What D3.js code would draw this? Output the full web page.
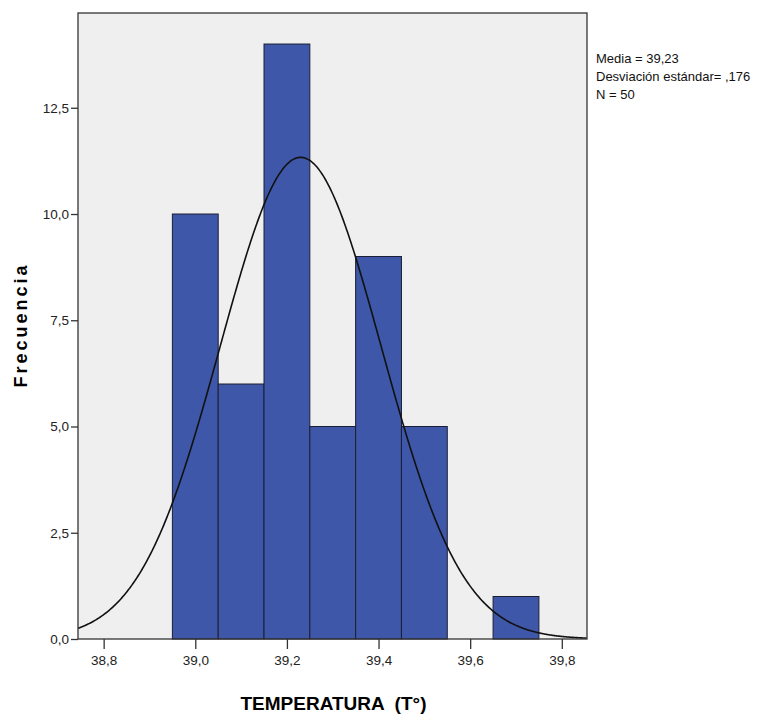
<!DOCTYPE html>
<html>
<head>
<meta charset="utf-8">
<script src="https://cdn.jsdelivr.net/npm/d3@7"></script>
<style>
  html, body { margin: 0; padding: 0; background: #ffffff; }
  svg { display: block; }
</style>
</head>
<body>
<div id="chart"></div>
<script>
// Histogram bins (lower edge) and counts of temperature readings
const binStarts = [38.95, 39.05, 39.15, 39.25, 39.35, 39.45, 39.55, 39.65];
const binWidth = 0.1;
const counts = [10, 6, 14, 5, 9, 5, 0, 1];

// Summary statistics shown beside the plot
const mean = 39.23;
const sd = 0.176;
const n = 50;

const xTicks = [38.8, 39.0, 39.2, 39.4, 39.6, 39.8];
const yTicks = [0, 2.5, 5, 7.5, 10, 12.5];

const W = 765, H = 717;
const plot = { left: 78, right: 587, top: 13, bottom: 639 };

const fmtComma = d => d3.format(".1f")(d).replace(".", ",");

const svg = d3.select("#chart").append("svg")
  .attr("width", W).attr("height", H)
  .style("font-family", "'Liberation Sans', Arial, sans-serif");

const x = d3.scaleLinear().domain([38.744, 39.855]).range([plot.left, plot.right]);
const y = d3.scaleLinear().domain([0, 14.73]).range([plot.bottom, plot.top]);

// Plot background
svg.append("rect")
  .attr("x", plot.left).attr("y", plot.top)
  .attr("width", plot.right - plot.left).attr("height", plot.bottom - plot.top)
  .attr("fill", "#efefef");

// Bars
svg.append("g").selectAll("rect")
  .data(binStarts.map((s, i) => ({ s, c: counts[i] })).filter(d => d.c > 0))
  .join("rect")
  .attr("x", d => x(d.s))
  .attr("y", d => y(d.c))
  .attr("width", d => x(d.s + binWidth) - x(d.s))
  .attr("height", d => y(0) - y(d.c))
  .attr("fill", "#3e57a8")
  .attr("stroke", "#1b1e33")
  .attr("stroke-width", 1);

// Fitted normal curve scaled to counts
const curvePts = d3.range(x.domain()[0], x.domain()[1] + 0.0005, 0.002).map(v => {
  const z = (v - mean) / sd;
  const f = n * binWidth / (sd * Math.sqrt(2 * Math.PI)) * Math.exp(-0.5 * z * z);
  return [v, f];
});
svg.append("path")
  .datum(curvePts)
  .attr("fill", "none")
  .attr("stroke", "#111")
  .attr("stroke-width", 1.6)
  .attr("d", d3.line().x(d => x(d[0])).y(d => y(d[1])).curve(d3.curveBasis));

// Frame
svg.append("rect")
  .attr("x", plot.left).attr("y", plot.top)
  .attr("width", plot.right - plot.left).attr("height", plot.bottom - plot.top)
  .attr("fill", "none").attr("stroke", "#333").attr("stroke-width", 1.3);

// Axes
const yAxis = svg.append("g")
  .attr("transform", `translate(${plot.left},0)`)
  .call(d3.axisLeft(y).tickValues(yTicks).tickFormat(fmtComma).tickSize(7).tickPadding(2));
yAxis.select(".domain").remove();
yAxis.selectAll("line").attr("stroke", "#333").attr("stroke-width", 1.3);
yAxis.selectAll("text").attr("font-size", 13.5).attr("fill", "#222");

const xAxis = svg.append("g")
  .attr("transform", `translate(0,${plot.bottom})`)
  .call(d3.axisBottom(x).tickValues(xTicks).tickFormat(fmtComma).tickSize(10).tickPadding(6));
xAxis.select(".domain").remove();
xAxis.selectAll("line").attr("stroke", "#333").attr("stroke-width", 1.3);
xAxis.selectAll("text").attr("font-size", 13.5).attr("fill", "#222");

// Axis titles
svg.append("text")
  .attr("x", (plot.left + plot.right) / 2 + 1).attr("y", 710)
  .attr("text-anchor", "middle")
  .style("white-space", "pre")
  .attr("font-size", 19).attr("font-weight", "bold").attr("fill", "#000")
  .text("TEMPERATURA  (T°)");

svg.append("text")
  .attr("transform", "translate(27,325) rotate(-90)")
  .attr("text-anchor", "middle")
  .attr("font-size", 18).attr("font-weight", "bold").attr("fill", "#000")
  .attr("letter-spacing", 3)
  .text("Frecuencia");

// Summary statistics
const stats = [
  "Media = " + String(mean).replace(".", ","),
  "Desviación estándar= " + String(sd).replace("0.", ","),
  "N = " + n
];
svg.append("g").selectAll("text")
  .data(stats)
  .join("text")
  .attr("x", 596)
  .attr("y", (d, i) => 63 + i * 18)
  .attr("font-size", 13)
  .attr("fill", "#111")
  .text(d => d);
</script>
</body>
</html>
